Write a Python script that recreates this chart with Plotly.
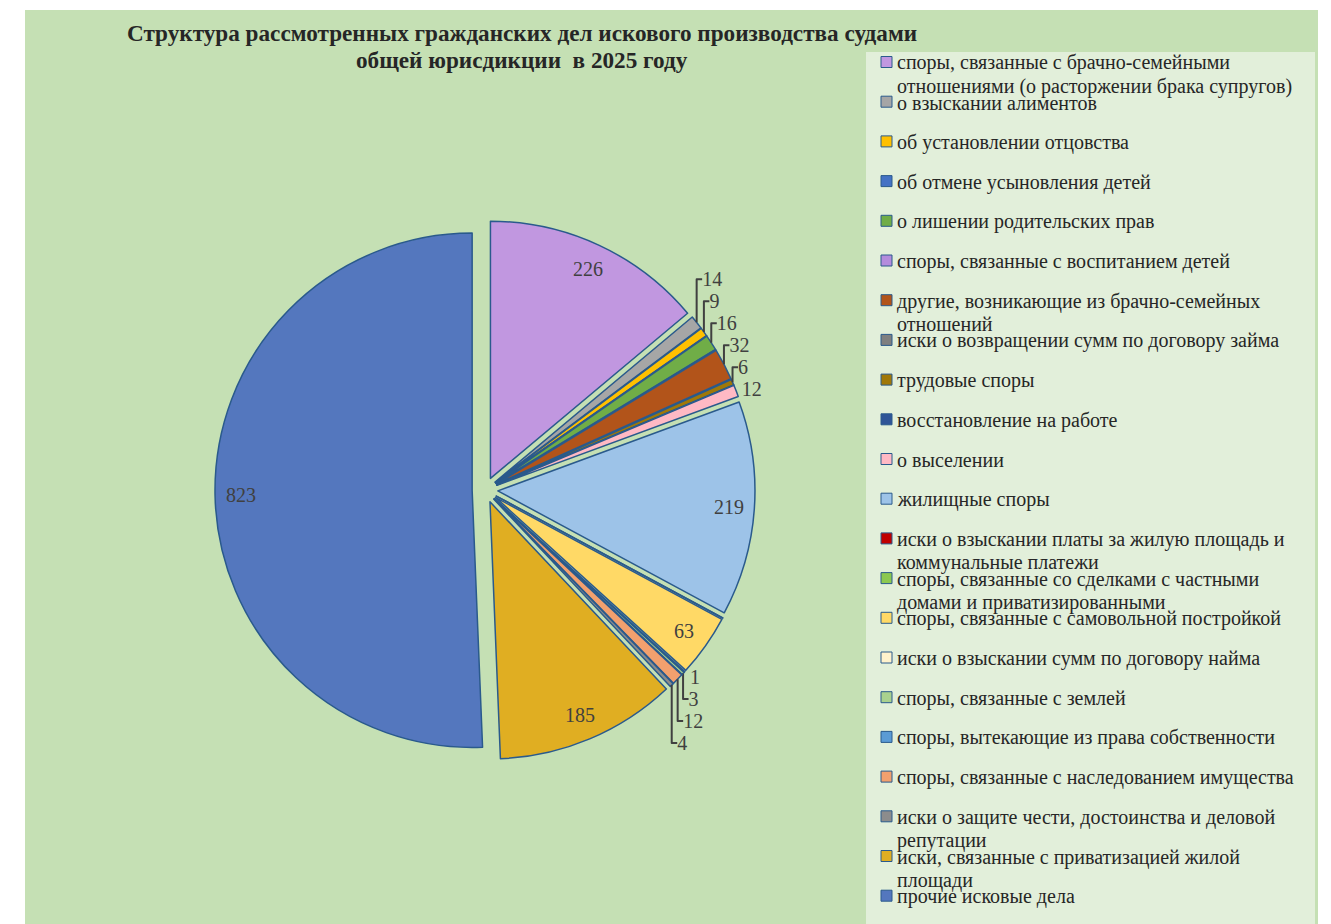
import math
import plotly.graph_objects as go

# ---------------- data ----------------
categories = [
    "споры, связанные с брачно-семейными<br>отношениями (о расторжении брака супругов)",
    "о взыскании алиментов",
    "об установлении отцовства",
    "об отмене усыновления детей",
    "о лишении родительских прав",
    "споры, связанные с воспитанием детей",
    "другие, возникающие из брачно-семейных<br>отношений",
    "иски о возвращении сумм по договору займа",
    "трудовые споры",
    "восстановление на работе",
    "о выселении",
    "жилищные споры",
    "иски о взыскании платы за жилую площадь и<br>коммунальные платежи",
    "споры, связанные со сделками с частными<br>домами и приватизированными",
    "споры, связанные с самовольной постройкой",
    "иски о взыскании сумм по договору найма",
    "споры, связанные с землей",
    "споры, вытекающие из права собственности",
    "споры, связанные с наследованием имущества",
    "иски о защите чести, достоинства и деловой<br>репутации",
    "иски, связанные с приватизацией жилой<br>площади",
    "прочие исковые дела",
]
values = [226, 14, 9, 0, 16, 0, 32, 0, 6, 0, 12, 219, 0, 0, 63, 1, 3, 0, 12, 4, 185, 823]

slice_colors = [
    "#C197E0", "#A6A6A6", "#FFC000", "#4472C4", "#70AD47", "#B48CDC",
    "#B2541A", "#7F7F7F", "#A07808", "#2F5597", "#FFB9C4", "#9DC3E8",
    "#C00000", "#8CC850", "#FFD966", "#FFF2CC", "#A9D18E", "#5B9BD5",
    "#F2A06E", "#8C8C8C", "#E0AE22", "#5477BE",
]

title_lines = ["Структура рассмотренных гражданских дел искового производства судами",
               "общей юрисдикции  в 2025 году"]

# ---------------- layout constants ----------------
W, H = 1331, 924
PULL = 0.05
CX, CY, BOX = 485, 490, 540          # pie box centre and size (px)
R = BOX / (2 + 2 * PULL)             # plotly's pie radius
SERIF = "Liberation Serif, Times New Roman, serif"
LABEL_COLOR = "#404040"
TEXT_COLOR = "#262626"
BORDER = "#2A5A8C"

def px(x):
    return x / W

def py(y):
    return 1 - y / H

inside_min = 50
text = [str(v) if 0 < v < inside_min else "" for v in values]
textpos = ["outside" if 0 < v < inside_min else "none" for v in values]

fig = go.Figure()
fig.add_trace(go.Pie(
    labels=[c.replace("<br>", " ") for c in categories],
    values=values,
    sort=False,
    direction="clockwise",
    rotation=0,
    pull=[PULL] * len(values),
    marker=dict(colors=slice_colors, line=dict(color=BORDER, width=1.5)),
    text=text,
    textinfo="text",
    textposition=textpos,
    outsidetextfont=dict(family=SERIF, size=20, color=LABEL_COLOR),
    domain=dict(x=[px(CX - BOX / 2), px(CX + BOX / 2)],
                y=[py(CY + BOX / 2), py(CY - BOX / 2)]),
    showlegend=False,
    hoverinfo="label+value",
))

# inside labels for the large slices (placed near the outer edge, at each slice's mid angle)
total = sum(values)
cum = 0
annotations = []
for v in values:
    mid = (cum + v / 2) / total * 2 * math.pi
    cum += v
    if v >= inside_min:
        d = 0.9 * R + PULL * R
        annotations.append(dict(
            x=px(CX + d * math.sin(mid)), y=py(CY - d * math.cos(mid)),
            xref="paper", yref="paper", text=str(v), showarrow=False,
            font=dict(family=SERIF, size=20, color=LABEL_COLOR),
            xanchor="center", yanchor="middle"))

# title (two lines)
for k, line in enumerate(title_lines):
    annotations.append(dict(
        x=px(522), y=py(33 + 27 * k), xref="paper", yref="paper", text="<b>" + line + "</b>",
        showarrow=False, xanchor="center", yanchor="middle",
        font=dict(family=SERIF, size=23.2, color=TEXT_COLOR)))

shapes = [
    dict(type="rect", xref="paper", yref="paper", x0=px(25), x1=px(1318), y0=py(924), y1=py(10),
         fillcolor="#C5E0B4", line=dict(width=0), layer="below"),
    dict(type="rect", xref="paper", yref="paper", x0=px(866), x1=px(1315), y0=py(924), y1=py(52),
         fillcolor="#E2EFDA", line=dict(width=0), layer="below"),
]

# manual legend
LEG_Y0, LEG_STEP, LINE_STEP = 62, 39.7, 23
for i, (cat, col) in enumerate(zip(categories, slice_colors)):
    yc = LEG_Y0 + i * LEG_STEP
    shapes.append(dict(type="rect", xref="paper", yref="paper",
                       x0=px(881), x1=px(892), y0=py(yc + 5.5), y1=py(yc - 5.5),
                       fillcolor=col, line=dict(color=BORDER, width=1)))
    for k, line in enumerate(cat.split("<br>")):
        annotations.append(dict(
            x=px(895), y=py(yc + 1 + k * LINE_STEP), xref="paper", yref="paper", text=line,
            showarrow=False, xanchor="left", yanchor="middle", align="left",
            font=dict(family=SERIF, size=20, color=TEXT_COLOR)))

fig.update_layout(
    width=W, height=H, autosize=False,
    margin=dict(l=0, r=0, t=0, b=0),
    paper_bgcolor="white", plot_bgcolor="white",
    shapes=shapes, annotations=annotations,
)

fig.write_html("out.html", config={"displayModeBar": False},
               post_script="document.body.style.margin='0';")
